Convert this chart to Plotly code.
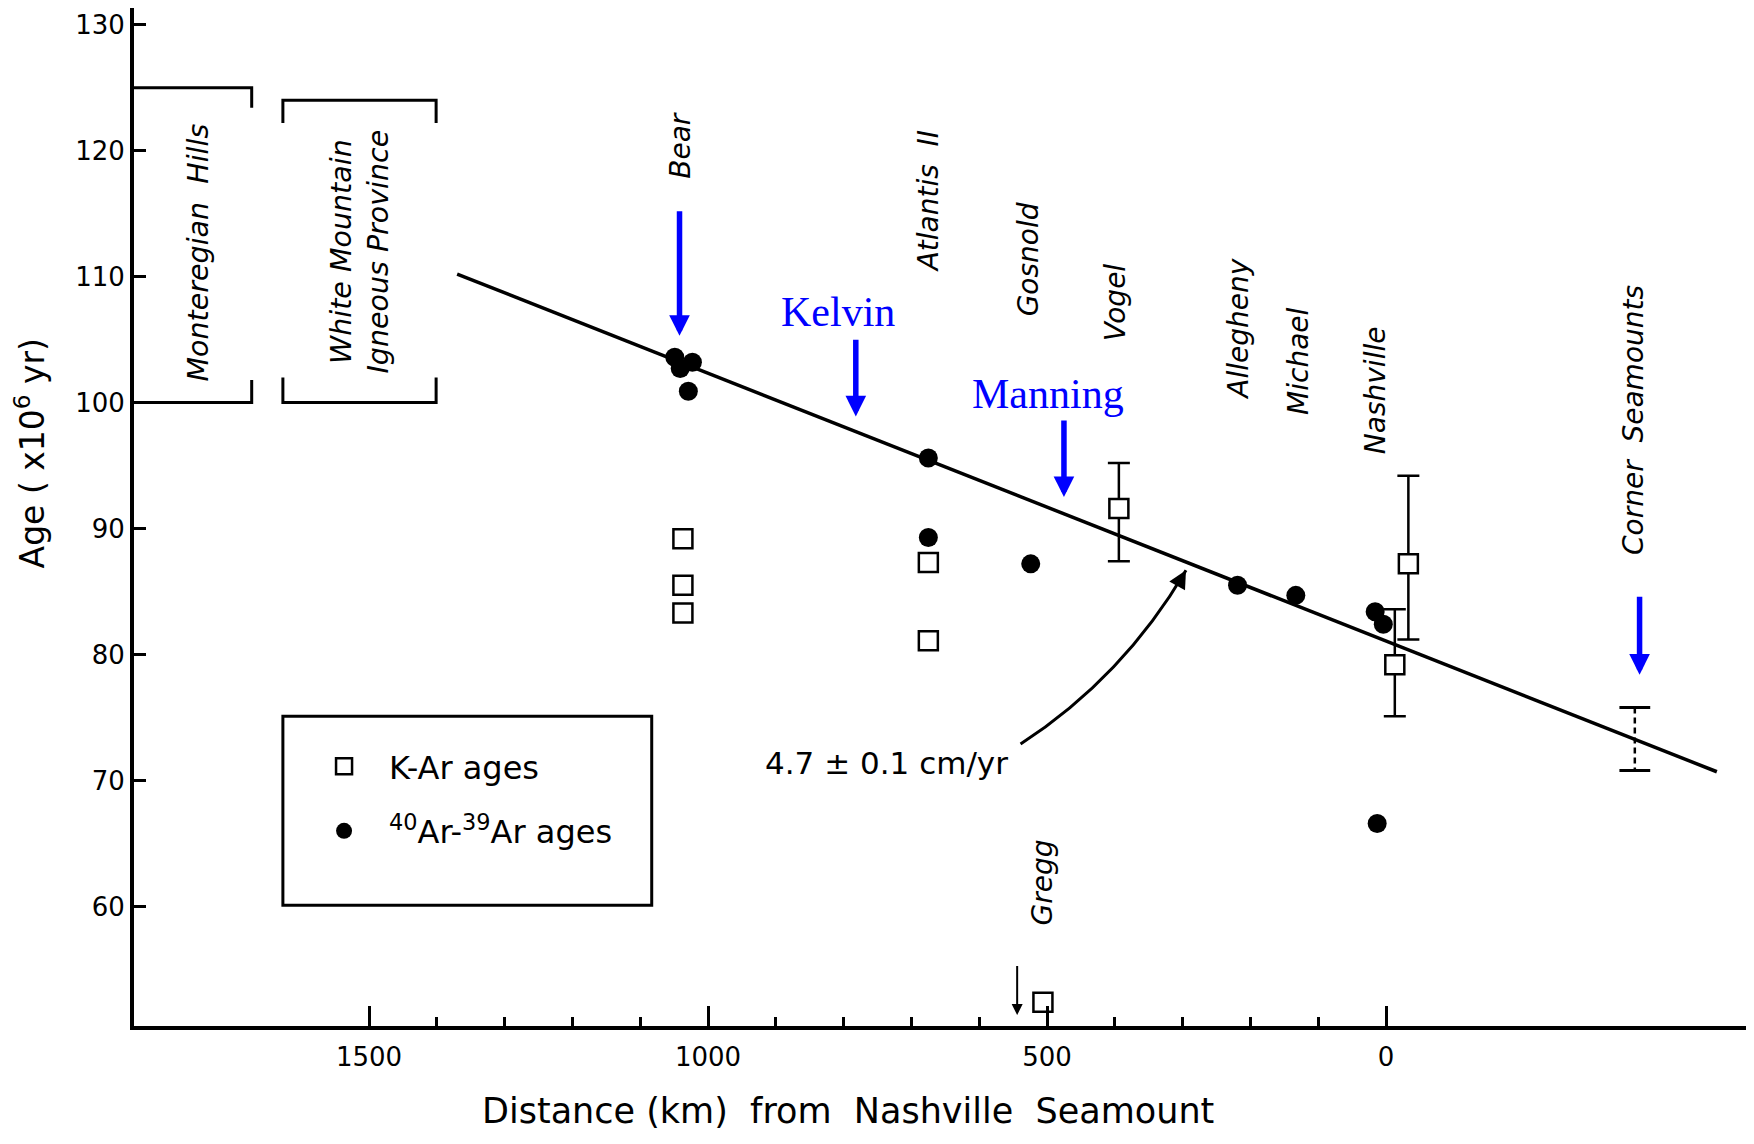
import plotly.graph_objects as go

# ---------------- data ----------------
# K-Ar ages (open squares) without error bars
kar_km = [1037, 1037, 1037, 675, 675, 506]
kar_age = [89.2, 85.5, 83.3, 87.3, 81.1, 52.4]
# K-Ar ages with error bars (Vogel, Nashville x2)
kar_eb_km = [394, -13, -33]
kar_eb_age = [91.6, 79.2, 87.2]
kar_eb_plus = [3.6, 4.4, 7.0]
kar_eb_minus = [4.2, 4.1, 6.0]
# 40Ar-39Ar ages (filled circles)
arar_km = [1049, 1041, 1023, 1029, 675, 675, 524, 219, 133, 16, 4, 13]
arar_age = [103.6, 102.7, 103.2, 100.9, 95.6, 89.3, 87.2, 85.5, 84.7, 83.4, 82.4, 66.6]
# Corner Seamounts age range (dashed bar)
corner_km = [-367]
corner_top = [75.8]
corner_bottom = [70.8]
# fitted age progression line (4.7 cm/yr)
fit_km = [1370, -488]
fit_age = [110.2, 70.7]

y_ticks = [60, 70, 80, 90, 100, 110, 120, 130]
x_ticks = [1500, 1000, 500, 0]
x_ticktext = ["1500", "1000", "500", "0"]
x_minor = [1400, 1300, 1200, 1100, 900, 800, 700, 600, 400, 300, 200, 100]

# seamount labels: (text, km, age)
names = [("Bear", 1041, 120.4), ("Atlantis\u00a0 II", 675, 116.0), ("Gosnold", 526, 111.4),
         ("Vogel", 399, 108.0), ("Allegheny", 218, 105.8), ("Michael", 130, 103.3),
         ("Nashville", 16, 101.0), ("Corner\u00a0 Seamounts", -364, 98.6), ("Gregg", 506, 61.9)]
# blue annotations
blue_texts = [("Kelvin", 808, 107.2), ("Manning", 499, 100.7)]
blue_arrows = [(1042, 115.3, 105.3), (782, 105.1, 98.9), (475, 98.7, 92.5), (-374, 84.7, 78.4)]

FONT = "DejaVu Sans"

fig = go.Figure()

fig.add_trace(go.Scatter(
    x=fit_km, y=fit_age, mode="lines", line=dict(color="black", width=3.5),
    showlegend=False, hoverinfo="skip"))

# Corner seamounts dashed bar + caps
fig.add_trace(go.Scatter(
    x=corner_km * 2, y=corner_top + corner_bottom, mode="lines",
    line=dict(color="black", width=2.5, dash="6px,4px"), showlegend=False))
fig.add_trace(go.Scatter(
    x=corner_km * 2, y=corner_top + corner_bottom, mode="markers",
    marker=dict(symbol="line-ew-open", size=22, color="black",
                line=dict(color="black", width=3)),
    showlegend=False))

fig.add_trace(go.Scatter(
    x=kar_eb_km, y=kar_eb_age, mode="markers",
    marker=dict(symbol="square", size=19, color="white", line=dict(color="black", width=2.5)),
    error_y=dict(type="data", symmetric=False, array=kar_eb_plus, arrayminus=kar_eb_minus,
                 color="black", thickness=2.5, width=11),
    legendgroup="kar", showlegend=False))
fig.add_trace(go.Scatter(
    x=kar_km, y=kar_age, mode="markers", name="K-Ar ages",
    marker=dict(symbol="square", size=19, color="white", line=dict(color="black", width=2.5)),
    legendgroup="kar"))
fig.add_trace(go.Scatter(
    x=arar_km, y=arar_age, mode="markers", name="<sup>40</sup>Ar-<sup>39</sup>Ar ages",
    marker=dict(symbol="circle", size=19, color="black"),
    legendgroup="arar"))

shapes = []
# Monteregian Hills bracket
shapes.append(dict(type="path", xref="x", yref="y", path="M 1850,125 L 1673,125 L 1673,123.4",
                   line=dict(color="black", width=3)))
shapes.append(dict(type="path", xref="x", yref="y", path="M 1850,100 L 1673,100 L 1673,101.8",
                   line=dict(color="black", width=3)))
# White Mountain bracket
shapes.append(dict(type="path", xref="x", yref="y", path="M 1627,122.2 L 1627,124 L 1401,124 L 1401,122.2",
                   line=dict(color="black", width=3)))
shapes.append(dict(type="path", xref="x", yref="y", path="M 1627,102 L 1627,100 L 1401,100 L 1401,102",
                   line=dict(color="black", width=3)))
# legend box
shapes.append(dict(type="rect", xref="x", yref="y", x0=1627, x1=1083, y0=60.1, y1=75.1,
                   line=dict(color="black", width=3)))
# curved arrow to the line
shapes.append(dict(type="path", xref="x", yref="y", path="M 539,72.9 Q 387.6,78.2 295,86.7",
                   line=dict(color="black", width=3)))

ann = []
for t, xk, ya in names:
    ann.append(dict(x=xk, y=ya, xref="x", yref="y", text=t, showarrow=False, textangle=-90,
                    font=dict(family=FONT, size=28, color="black", style="italic")))
ann.append(dict(x=1751, y=111.9, xref="x", yref="y", text="Monteregian\u00a0 Hills", showarrow=False,
                textangle=-90, font=dict(family=FONT, size=28.5, color="black", style="italic")))
ann.append(dict(x=1513, y=112.0, xref="x", yref="y", text="White Mountain<br>Igneous Province",
                showarrow=False, textangle=-90,
                font=dict(family=FONT, size=28.5, color="black", style="italic")))
for t, xk, ya in blue_texts:
    ann.append(dict(x=xk, y=ya, xref="x", yref="y", text=t, showarrow=False,
                    font=dict(family="Liberation Serif", size=42, color="#0000FF")))
for xk, y0, y1 in blue_arrows:
    ann.append(dict(x=xk, y=y1, ax=xk, ay=y0, xref="x", yref="y", axref="x", ayref="y",
                    text="", showarrow=True, arrowhead=2, arrowsize=0.75, arrowwidth=5.5,
                    arrowcolor="#0000FF", standoff=0))
# Gregg arrow
ann.append(dict(x=544, y=51.4, ax=544, ay=55.4, xref="x", yref="y", axref="x", ayref="y",
                text="", showarrow=True, arrowhead=2, arrowsize=1.1, arrowwidth=2,
                arrowcolor="black", standoff=0))
# arrowhead of the curved arrow
ann.append(dict(x=295, y=86.7, ax=-9, ay=16, xref="x", yref="y", text="", showarrow=True,
                arrowhead=2, arrowsize=1.2, arrowwidth=3, arrowcolor="black", standoff=0))
ann.append(dict(x=737, y=71.4, xref="x", yref="y", text="4.7 ± 0.1 cm/yr", showarrow=False,
                font=dict(family=FONT, size=31, color="black")))
# axis titles
ann.append(dict(x=0.442, y=-0.0835, xref="paper", yref="paper", showarrow=False,
                xanchor="center", yanchor="middle",
                text="Distance (km)\u00a0 from\u00a0 Nashville\u00a0 Seamount",
                font=dict(family=FONT, size=35, color="black")))
ann.append(dict(x=-0.0635, y=0.5629, xref="paper", yref="paper", showarrow=False, textangle=-90,
                xanchor="center", yanchor="middle",
                text="Age ( x10<sup>6</sup> yr)",
                font=dict(family=FONT, size=33, color="black")))

fig.update_layout(
    width=1746, height=1136,
    margin=dict(l=126, r=5, t=0, b=118),
    paper_bgcolor="white", plot_bgcolor="white",
    shapes=shapes, annotations=ann,
    legend=dict(x=0.1022, y=0.282, xanchor="left", yanchor="top",
                font=dict(family=FONT, size=32, color="black"),
                bgcolor="rgba(0,0,0,0)", traceorder="grouped", tracegroupgap=20,
                itemwidth=80),
    xaxis=dict(range=[1846.6, -535.4], showgrid=False, zeroline=False,
               showline=True, linewidth=4, linecolor="black",
               ticks="inside", ticklen=20, tickwidth=3, tickcolor="black",
               tickvals=x_ticks, ticktext=x_ticktext, ticklabelstandoff=5,
               tickfont=dict(family=FONT, size=26, color="black"),
               minor=dict(tickvals=x_minor, ticks="inside", ticklen=9, tickwidth=3,
                          tickcolor="black", showgrid=False)),
    yaxis=dict(range=[50.52, 131.32], showgrid=False, zeroline=False,
               showline=True, linewidth=4, linecolor="black", mirror=True,
               ticks="inside", ticklen=12, tickwidth=3, tickcolor="black",
               tickvals=y_ticks, tickfont=dict(family=FONT, size=26, color="black")),
)

fig.write_html("out.html")
